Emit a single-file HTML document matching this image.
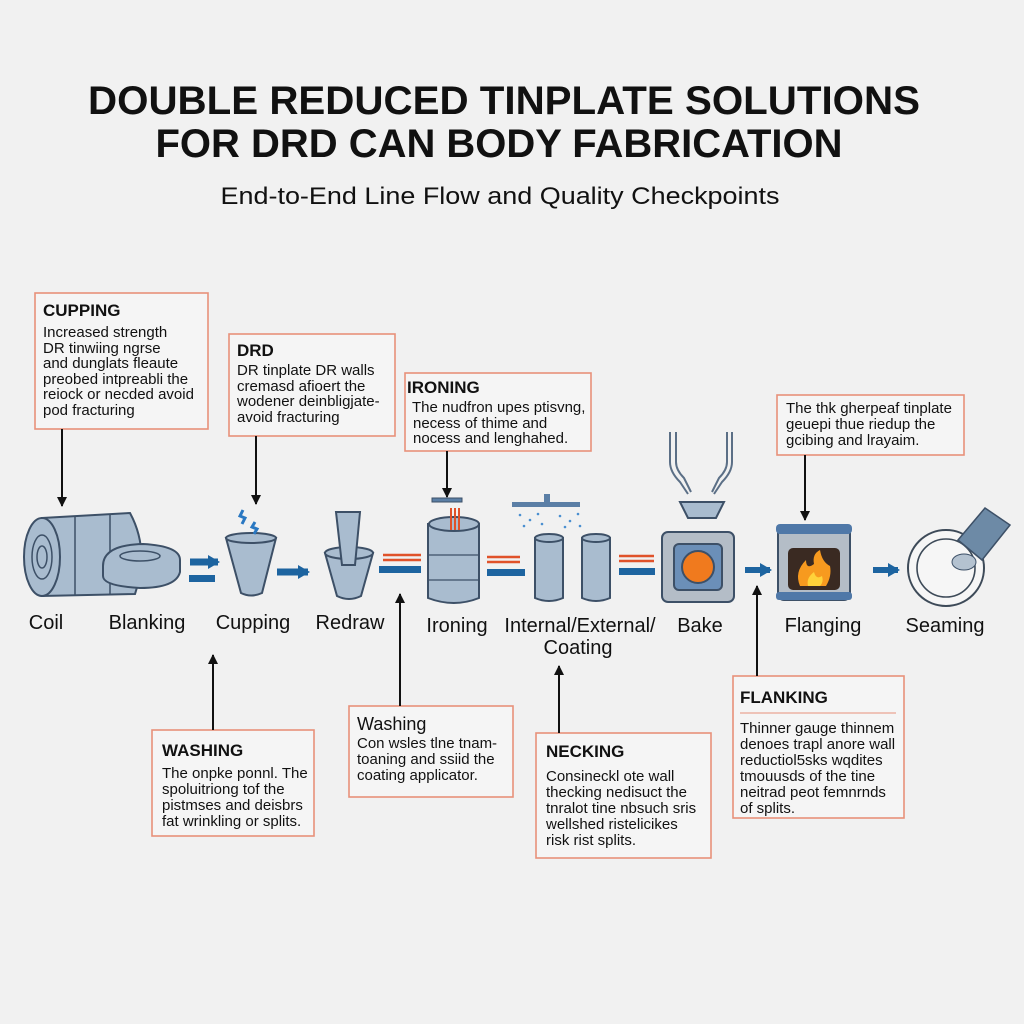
<!DOCTYPE html>
<html><head><meta charset="utf-8"><style>
html,body{margin:0;padding:0;background:#f1f1f1}
svg{display:block}
text{font-family:"Liberation Sans",sans-serif;fill:#111}
.t{font-weight:bold;font-size:17px}
.b{font-size:15px}
.l{font-size:20px;text-anchor:middle}
.box{fill:#f5f5f5;stroke:#e8917a;stroke-width:1.6}
.ar{stroke:#111;stroke-width:2;fill:none}
.met{fill:#a9bccf;stroke:#3d5067;stroke-width:2}
</style></head><body>
<svg width="1024" height="1024" viewBox="0 0 1024 1024" xmlns="http://www.w3.org/2000/svg">
<defs>
<marker id="ah" markerWidth="10" markerHeight="10" refX="9" refY="5" orient="auto" markerUnits="userSpaceOnUse"><path d="M0,0 L10,5 L0,10z" fill="#111"/></marker>
<marker id="bh" markerWidth="12" markerHeight="14" refX="10" refY="7" orient="auto" markerUnits="userSpaceOnUse"><path d="M0,0 L12,7 L0,14z" fill="#1d64a0"/></marker>
</defs>
<rect width="1024" height="1024" fill="#f1f1f1"/>
<text x="504" y="114" text-anchor="middle" textLength="832" lengthAdjust="spacingAndGlyphs" style="font-weight:bold;font-size:40px">DOUBLE REDUCED TINPLATE SOLUTIONS</text>
<text x="499" y="157" text-anchor="middle" textLength="687" lengthAdjust="spacingAndGlyphs" style="font-weight:bold;font-size:40px">FOR DRD CAN BODY FABRICATION</text>
<text x="500" y="204" text-anchor="middle" textLength="559" lengthAdjust="spacingAndGlyphs" style="font-size:24px">End-to-End Line Flow and Quality Checkpoints</text>

<!-- top boxes -->
<rect class="box" x="35" y="293" width="173" height="136"/>
<text class="t" x="43" y="316">CUPPING</text>
<text class="b" x="43" y="337">Increased strength</text>
<text class="b" x="43" y="353">DR tinwiing ngrse</text>
<text class="b" x="43" y="368">and dunglats fleaute</text>
<text class="b" x="43" y="384">preobed intpreabli the</text>
<text class="b" x="43" y="399">reiock or necded avoid</text>
<text class="b" x="43" y="415">pod fracturing</text>

<rect class="box" x="229" y="334" width="166" height="102"/>
<text class="t" x="237" y="356">DRD</text>
<text class="b" x="237" y="375">DR tinplate DR walls</text>
<text class="b" x="237" y="391">cremasd afioert the</text>
<text class="b" x="237" y="406">wodener deinbligjate-</text>
<text class="b" x="237" y="422">avoid fracturing</text>

<rect class="box" x="405" y="373" width="186" height="78"/>
<text class="t" x="407" y="393">IRONING</text>
<text class="b" x="412" y="412">The nudfron upes ptisvng,</text>
<text class="b" x="413" y="428">necess of thime and</text>
<text class="b" x="413" y="443">nocess and lenghahed.</text>

<rect class="box" x="777" y="395" width="187" height="60"/>
<text class="b" x="786" y="413">The thk gherpeaf tinplate</text>
<text class="b" x="786" y="429">geuepi thue riedup the</text>
<text class="b" x="786" y="445">gcibing and lrayaim.</text>

<line class="ar" x1="62" y1="429" x2="62" y2="506" marker-end="url(#ah)"/>
<line class="ar" x1="256" y1="436" x2="256" y2="504" marker-end="url(#ah)"/>
<line class="ar" x1="447" y1="451" x2="447" y2="497" marker-end="url(#ah)"/>
<line class="ar" x1="805" y1="455" x2="805" y2="520" marker-end="url(#ah)"/>

<!-- bottom boxes -->
<rect class="box" x="152" y="730" width="162" height="106"/>
<text class="t" x="162" y="756">WASHING</text>
<text class="b" x="162" y="778">The onpke ponnl. The</text>
<text class="b" x="162" y="794">spoluitriong tof the</text>
<text class="b" x="162" y="810">pistmses and deisbrs</text>
<text class="b" x="162" y="826">fat wrinkling or splits.</text>

<rect class="box" x="349" y="706" width="164" height="91"/>
<text class="t" x="357" y="730" style="font-weight:normal;font-size:18px">Washing</text>
<text class="b" x="357" y="748">Con wsles tlne tnam-</text>
<text class="b" x="357" y="764">toaning and ssiid the</text>
<text class="b" x="357" y="780">coating applicator.</text>

<rect class="box" x="536" y="733" width="175" height="125"/>
<text class="t" x="546" y="757">NECKING</text>
<text class="b" x="546" y="781">Consineckl ote wall</text>
<text class="b" x="546" y="797">thecking nedisuct the</text>
<text class="b" x="546" y="813">tnralot tine nbsuch sris</text>
<text class="b" x="546" y="829">wellshed ristelicikes</text>
<text class="b" x="546" y="845">risk rist splits.</text>

<rect class="box" x="733" y="676" width="171" height="142"/>
<text class="t" x="740" y="703">FLANKING</text>
<line x1="740" y1="713" x2="896" y2="713" stroke="#e8917a" stroke-width="1"/>
<text class="b" x="740" y="733">Thinner gauge thinnem</text>
<text class="b" x="740" y="749">denoes trapl anore wall</text>
<text class="b" x="740" y="765">reductiol5sks wqdites</text>
<text class="b" x="740" y="781">tmouusds of the tine</text>
<text class="b" x="740" y="797">neitrad peot femnrnds</text>
<text class="b" x="740" y="813">of splits.</text>

<line class="ar" x1="213" y1="730" x2="213" y2="655" marker-end="url(#ah)"/>
<line class="ar" x1="400" y1="706" x2="400" y2="594" marker-end="url(#ah)"/>
<line class="ar" x1="559" y1="733" x2="559" y2="666" marker-end="url(#ah)"/>
<line class="ar" x1="757" y1="676" x2="757" y2="586" marker-end="url(#ah)"/>

<!-- icons -->
<path class="met" d="M42,518 L130,513 Q150,550 135,594 L42,596z"/>
<ellipse class="met" cx="42" cy="557" rx="18" ry="39"/>
<ellipse cx="42" cy="557" rx="10" ry="22" fill="none" stroke="#3d5067" stroke-width="1.5"/>
<ellipse cx="42" cy="557" rx="5" ry="11" fill="none" stroke="#3d5067" stroke-width="1.5"/>
<line x1="75" y1="516" x2="75" y2="595" stroke="#3d5067" stroke-width="1.5"/>
<line x1="110" y1="514" x2="110" y2="594" stroke="#3d5067" stroke-width="1.5"/>
<path class="met" d="M103,566 Q103,545 143,544 Q180,546 180,560 L180,572 Q176,588 140,588 Q103,586 103,576z"/>
<ellipse cx="140" cy="556" rx="20" ry="5" fill="none" stroke="#3d5067" stroke-width="1.5"/>
<line x1="190" y1="562" x2="218" y2="562" stroke="#1d64a0" stroke-width="7" marker-end="url(#bh)"/>
<rect x="189" y="575" width="26" height="7" fill="#1d64a0"/>
<path class="met" d="M226,538 L276,538 L262,593 Q251,598 241,593z"/>
<ellipse class="met" cx="251" cy="538" rx="25" ry="5"/>
<path d="M243,510 l-3,6 l5,2 l-3,6 M255,522 l-3,5 l5,2 l-3,5" stroke="#2a78c2" stroke-width="3" fill="none"/>
<line x1="277" y1="572" x2="308" y2="572" stroke="#1d64a0" stroke-width="7" marker-end="url(#bh)"/>
<path class="met" d="M325,553 L373,553 L361,596 Q349,602 337,596z"/>
<ellipse class="met" cx="349" cy="553" rx="24" ry="6"/>
<path class="met" d="M336,512 L360,512 L355,565 L342,565z"/>
<rect x="379" y="566" width="42" height="7" fill="#1d64a0"/>
<line x1="383" y1="555" x2="421" y2="555" stroke="#e0522a" stroke-width="2.5"/>
<line x1="383" y1="560" x2="421" y2="560" stroke="#e0522a" stroke-width="2.5"/>
<rect x="432" y="498" width="30" height="4" fill="#5b7fa6" stroke="#3d5067"/>
<path class="met" d="M428,524 L479,524 L479,598 Q454,608 428,598z"/>
<ellipse class="met" cx="454" cy="524" rx="25" ry="7"/>
<line x1="429" y1="555" x2="478" y2="555" stroke="#3d5067" stroke-width="1.2"/>
<line x1="429" y1="580" x2="478" y2="580" stroke="#3d5067" stroke-width="1.2"/>
<path d="M451,508 v22 M455,508 v22 M459,508 v22" stroke="#e0522a" stroke-width="2"/>
<rect x="487" y="569" width="38" height="7" fill="#1d64a0"/>
<line x1="487" y1="557" x2="520" y2="557" stroke="#e0522a" stroke-width="2.5"/>
<line x1="487" y1="562" x2="520" y2="562" stroke="#e0522a" stroke-width="2.5"/>
<rect x="512" y="502" width="68" height="5" fill="#5b7fa6"/>
<rect x="544" y="494" width="6" height="10" fill="#5b7fa6"/>
<g fill="#4a8fd0"><circle cx="520" cy="515" r="1.3"/><circle cx="530" cy="520" r="1.3"/><circle cx="538" cy="514" r="1.3"/><circle cx="524" cy="526" r="1.3"/><circle cx="542" cy="524" r="1.3"/><circle cx="560" cy="516" r="1.3"/><circle cx="570" cy="521" r="1.3"/><circle cx="578" cy="514" r="1.3"/><circle cx="565" cy="527" r="1.3"/><circle cx="580" cy="526" r="1.3"/></g>
<path class="met" d="M535,538 L563,538 L563,598 Q549,604 535,598z"/>
<ellipse class="met" cx="549" cy="538" rx="14" ry="4"/>
<path class="met" d="M582,538 L610,538 L610,598 Q596,604 582,598z"/>
<ellipse class="met" cx="596" cy="538" rx="14" ry="4"/>
<rect x="619" y="568" width="36" height="7" fill="#1d64a0"/>
<line x1="619" y1="556" x2="654" y2="556" stroke="#e0522a" stroke-width="2.5"/>
<line x1="619" y1="561" x2="654" y2="561" stroke="#e0522a" stroke-width="2.5"/>
<path d="M670,432 v30 q0,10 10,20 l8,12 M676,432 v30 q0,8 8,16 l7,14 M732,432 v30 q0,10 -10,20 l-8,12 M727,432 v30 q0,8 -8,16 l-7,14" stroke="#5b6f86" stroke-width="2" fill="none"/>
<path class="met" d="M680,502 L724,502 L716,518 L688,518z"/>
<rect x="662" y="532" width="72" height="70" rx="6" fill="#b4bdc7" stroke="#3d5067" stroke-width="2"/>
<rect x="674" y="544" width="48" height="46" rx="5" fill="#6b8fb8" stroke="#3d5067" stroke-width="2"/>
<circle cx="698" cy="567" r="16" fill="#f07a1e" stroke="#3d5067" stroke-width="2"/>
<line x1="745" y1="570" x2="770" y2="570" stroke="#1d64a0" stroke-width="6" marker-end="url(#bh)"/>
<rect x="778" y="526" width="72" height="74" rx="6" fill="#b4bdc7" stroke="#3d5067" stroke-width="2"/>
<rect x="776" y="524" width="76" height="10" rx="4" fill="#4f78a8"/>
<rect x="776" y="592" width="76" height="8" rx="3" fill="#4f78a8"/>
<rect x="788" y="548" width="52" height="42" rx="5" fill="#3a2a22"/>
<path d="M800,586 q-6,-14 6,-26 q0,10 8,4 q-2,-10 6,-14 q2,12 10,16 q2,10 -4,20z" fill="#f79a1f"/>
<path d="M808,586 q-2,-8 6,-14 q2,8 8,4 q2,6 -2,10z" fill="#ffd23a"/>
<line x1="873" y1="570" x2="898" y2="570" stroke="#1d64a0" stroke-width="6" marker-end="url(#bh)"/>
<circle cx="946" cy="568" r="38" fill="#f6f6f6" stroke="#3d4a58" stroke-width="2"/>
<circle cx="946" cy="568" r="29" fill="none" stroke="#3d4a58" stroke-width="1.6"/>
<path d="M958,540 L985,508 L1010,525 L982,560z" fill="#6d8aa6" stroke="#3d5067" stroke-width="1.5"/>
<ellipse cx="964" cy="562" rx="12" ry="8" fill="#b4c2d0" stroke="#3d5067"/>

<text class="l" x="46" y="629">Coil</text>
<text class="l" x="147" y="629">Blanking</text>
<text class="l" x="253" y="629">Cupping</text>
<text class="l" x="350" y="629">Redraw</text>
<text class="l" x="457" y="632">Ironing</text>
<text class="l" x="580" y="632">Internal/External/</text>
<text class="l" x="578" y="654">Coating</text>
<text class="l" x="700" y="632">Bake</text>
<text class="l" x="823" y="632">Flanging</text>
<text class="l" x="945" y="632">Seaming</text>
</svg>
</body></html>
